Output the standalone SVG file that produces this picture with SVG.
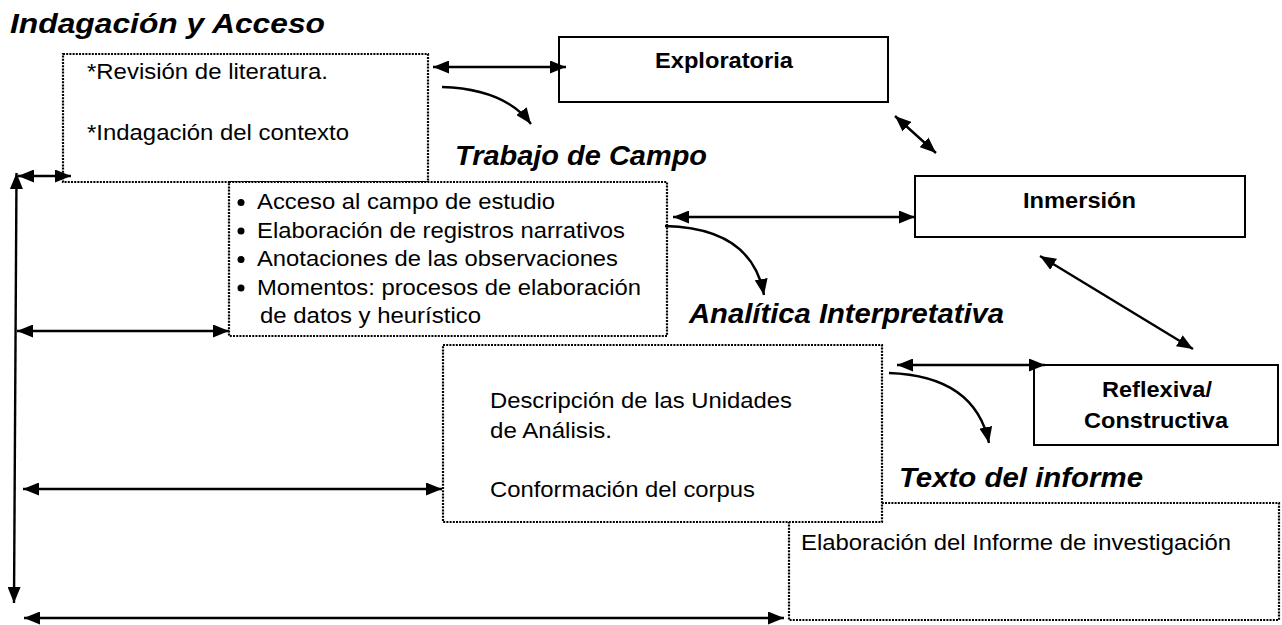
<svg xmlns="http://www.w3.org/2000/svg" width="1282" height="625" viewBox="0 0 1282 625">
<defs>
<marker id="ah" markerUnits="userSpaceOnUse" markerWidth="16" markerHeight="13" refX="16" refY="6.5" orient="auto-start-reverse" viewBox="0 0 16 13">
<path d="M0,0 L16,6.5 L0,13 z" fill="#000"/>
</marker>
<style>
.dot{fill:#fff;stroke:#000;stroke-width:2.2;stroke-dasharray:2 1.2}
.box{fill:#fff;stroke:#000;stroke-width:2}
.ttl{font-family:"Liberation Sans",Arial,sans-serif;font-weight:bold;font-style:italic;font-size:28px;fill:#000}
.lbl{font-family:"Liberation Sans",Arial,sans-serif;font-weight:bold;font-size:22px;fill:#000}
.txt{font-family:"Liberation Sans",Arial,sans-serif;font-size:22px;fill:#000}
.c2{fill:none;stroke:#000;stroke-width:2.4;marker-start:url(#ah);marker-end:url(#ah)}
.c1{fill:none;stroke:#000;stroke-width:2.4;marker-end:url(#ah)}
</style>
</defs>
<rect width="1282" height="625" fill="#fff"/>

<g id="title-indagacion"><text class="ttl" x="10" y="33" textLength="315" lengthAdjust="spacingAndGlyphs">Indagación y Acceso</text></g>
<g id="title-trabajo"><text class="ttl" x="455" y="165" textLength="252" lengthAdjust="spacingAndGlyphs">Trabajo de Campo</text></g>
<g id="title-analitica"><text class="ttl" x="689" y="323" textLength="315" lengthAdjust="spacingAndGlyphs">Analítica Interpretativa</text></g>
<g id="title-texto"><text class="ttl" x="899" y="487" textLength="244" lengthAdjust="spacingAndGlyphs">Texto del informe</text></g>

<g id="box-indagacion">
<rect class="dot" x="63" y="54" width="365" height="128"/>
<text class="txt" x="87" y="79" textLength="241" lengthAdjust="spacingAndGlyphs">*Revisión de literatura.</text>
<text class="txt" x="87" y="140" textLength="262" lengthAdjust="spacingAndGlyphs">*Indagación del contexto</text>
</g>

<g id="box-trabajo">
<rect class="dot" x="229" y="182" width="438" height="154"/>
<circle cx="241" cy="202.5" r="3.5"/>
<circle cx="241" cy="231" r="3.5"/>
<circle cx="241" cy="259.5" r="3.5"/>
<circle cx="241" cy="288" r="3.5"/>
<text class="txt" x="257" y="209" textLength="298" lengthAdjust="spacingAndGlyphs">Acceso al campo de estudio</text>
<text class="txt" x="257" y="237.5" textLength="368" lengthAdjust="spacingAndGlyphs">Elaboración de registros narrativos</text>
<text class="txt" x="257" y="266" textLength="361" lengthAdjust="spacingAndGlyphs">Anotaciones de las observaciones</text>
<text class="txt" x="257" y="294.5" textLength="384" lengthAdjust="spacingAndGlyphs">Momentos: procesos de elaboración</text>
<text class="txt" x="260" y="323" textLength="221" lengthAdjust="spacingAndGlyphs">de datos y heurístico</text>
</g>

<g id="box-texto">
<rect class="dot" x="789" y="503" width="490" height="117"/>
<text class="txt" x="801" y="550" textLength="430" lengthAdjust="spacingAndGlyphs">Elaboración del Informe de investigación</text>
</g>

<g id="box-analitica">
<rect class="dot" x="443" y="345" width="439" height="177"/>
<text class="txt" x="490" y="408" textLength="302" lengthAdjust="spacingAndGlyphs">Descripción de las Unidades</text>
<text class="txt" x="490" y="438" textLength="122" lengthAdjust="spacingAndGlyphs">de Análisis.</text>
<text class="txt" x="490" y="497" textLength="265" lengthAdjust="spacingAndGlyphs">Conformación del corpus</text>
</g>

<g id="box-exploratoria">
<rect class="box" x="559" y="37" width="329" height="65"/>
<text class="lbl" x="655" y="68" textLength="138" lengthAdjust="spacingAndGlyphs">Exploratoria</text>
</g>

<g id="box-inmersion">
<rect class="box" x="915" y="176" width="330" height="61"/>
<text class="lbl" x="1023" y="208" textLength="113" lengthAdjust="spacingAndGlyphs">Inmersión</text>
</g>

<g id="box-reflexiva">
<rect class="box" x="1034" y="365" width="244" height="80"/>
<text class="lbl" x="1102" y="397" textLength="110" lengthAdjust="spacingAndGlyphs">Reflexiva/</text>
<text class="lbl" x="1084" y="428" textLength="144" lengthAdjust="spacingAndGlyphs">Constructiva</text>
</g>

<g id="connectors">
<line class="c2" x1="433" y1="67" x2="566" y2="67"/>
<path class="c1" d="M442,87 Q505,89 531,124"/>
<line class="c2" x1="895" y1="116" x2="936" y2="153"/>
<line class="c2" x1="673" y1="217" x2="915" y2="217"/>
<path class="c1" d="M665,226 Q752,228 764,295"/>
<line class="c2" x1="1040" y1="256" x2="1193" y2="349"/>
<line class="c2" x1="897" y1="365" x2="1045" y2="365"/>
<path class="c1" d="M889,373 Q975,376 989,443"/>
<line class="c2" x1="16.5" y1="173" x2="14" y2="603"/>
<line class="c2" x1="18" y1="176" x2="71" y2="176"/>
<line class="c2" x1="17" y1="331" x2="229" y2="331"/>
<line class="c2" x1="23" y1="489" x2="442" y2="489"/>
<line class="c2" x1="24" y1="618" x2="784" y2="618"/>
</g>
</svg>
